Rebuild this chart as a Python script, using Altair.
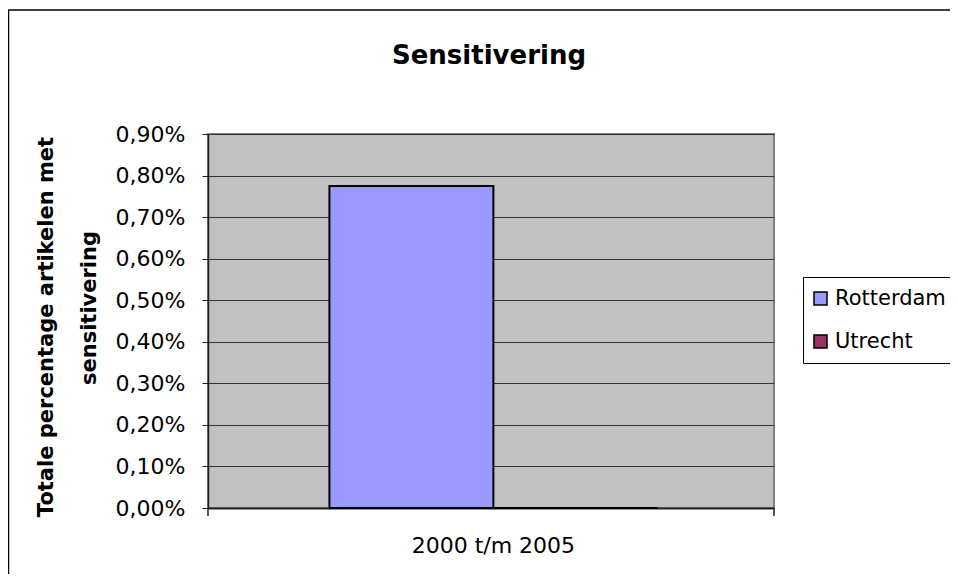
import altair as alt
import pandas as pd

periods = ["2000 t/m 2005"]
series = ["Rotterdam", "Utrecht"]
values = [0.775, 0.0]          # percentages
colors = ["#9999FF", "#993366"]
y_ticks = [0.0, 0.1, 0.2, 0.3, 0.4, 0.5, 0.6, 0.7, 0.8, 0.9]
chart_title = "Sensitivering"
y_title = ["Totale percentage artikelen met", "sensitivering"]

df = pd.DataFrame({"period": periods * len(series), "series": series, "value": values})

W, H = 566, 374
FONT = "DejaVu Sans"
one = pd.DataFrame({"k": [0]})

bars = alt.Chart(df).mark_bar(stroke="black", strokeWidth=2).encode(
    x=alt.X("period:N", title=None,
            scale=alt.Scale(paddingInner=0, paddingOuter=0.363, align=0.51),
            axis=alt.Axis(labelAngle=0, labelFont=FONT, labelFontSize=22, labelColor="black",
                          tickSize=0, ticks=False, labelPadding=27,
                          domainColor="#222222", domainWidth=2)),
    xOffset=alt.XOffset("series:N", sort=series, scale=alt.Scale(paddingInner=0, paddingOuter=0)),
    y=alt.Y("value:Q", title=None,
            scale=alt.Scale(domain=[0, 0.9], nice=False),
            axis=alt.Axis(values=y_ticks,
                          labelExpr="replace(format(datum.value, '.2f'), '.', ',') + '%'",
                          labelFont=FONT, labelFontSize=22, labelColor="black", labelPadding=17,
                          tickSize=6, tickColor="#222222", domainColor="#222222", domainWidth=1.5,
                          grid=True, gridColor="#333333", gridWidth=1)),
    color=alt.Color("series:N", sort=series,
                    scale=alt.Scale(domain=series, range=colors),
                    legend=alt.Legend(title=None, orient="none", legendX=595, legendY=143,
                                      labelFont=FONT, labelFontSize=21, labelColor="black",
                                      symbolType="square", symbolSize=169, symbolStrokeColor="black",
                                      symbolStrokeWidth=1.5, symbolOpacity=1, symbolOffset=-4,
                                      strokeColor="black", padding=11, rowPadding=21, labelOffset=4,
                                      labelLimit=300)),
)

tick_left = alt.Chart(one).mark_rule(color="#222222", strokeWidth=1.5).encode(
    x=alt.value(0), y=alt.value(H), y2=alt.value(H + 8))
tick_right = alt.Chart(one).mark_rule(color="#222222", strokeWidth=1.5).encode(
    x=alt.value(W), y=alt.value(H), y2=alt.value(H + 8))

title_mark = alt.Chart(one).mark_text(
    text=chart_title, font=FONT, fontSize=26, fontWeight="bold", color="black",
    align="center", baseline="alphabetic").encode(x=alt.value(W / 2 - 2), y=alt.value(-70))

ytitle1 = alt.Chart(one).mark_text(
    text=y_title[0], font=FONT, fontSize=21, fontWeight="bold", color="black",
    align="center", baseline="middle", angle=270).encode(x=alt.value(-161), y=alt.value(193))
ytitle2 = alt.Chart(one).mark_text(
    text=y_title[1], font=FONT, fontSize=21, fontWeight="bold", color="black",
    align="center", baseline="middle", angle=270).encode(x=alt.value(-118), y=alt.value(174))

border = alt.Chart(one).mark_rect(fill="transparent", stroke="black", strokeWidth=1.5).encode(
    x=alt.value(-199.5), x2=alt.value(1200), y=alt.value(-124), y2=alt.value(1200))

chart = alt.layer(bars, tick_left, tick_right, title_mark, ytitle1, ytitle2, border).properties(
    width=W, height=H,
    background="white",
    autosize=alt.AutoSizeParams(type="none"),
    padding={"left": 200, "top": 126, "right": 176, "bottom": 66},
).configure_view(
    fill="#C0C0C0", stroke="#808080", strokeWidth=2
)

chart.save("out.html", embed_options={"renderer": "svg", "actions": False})
